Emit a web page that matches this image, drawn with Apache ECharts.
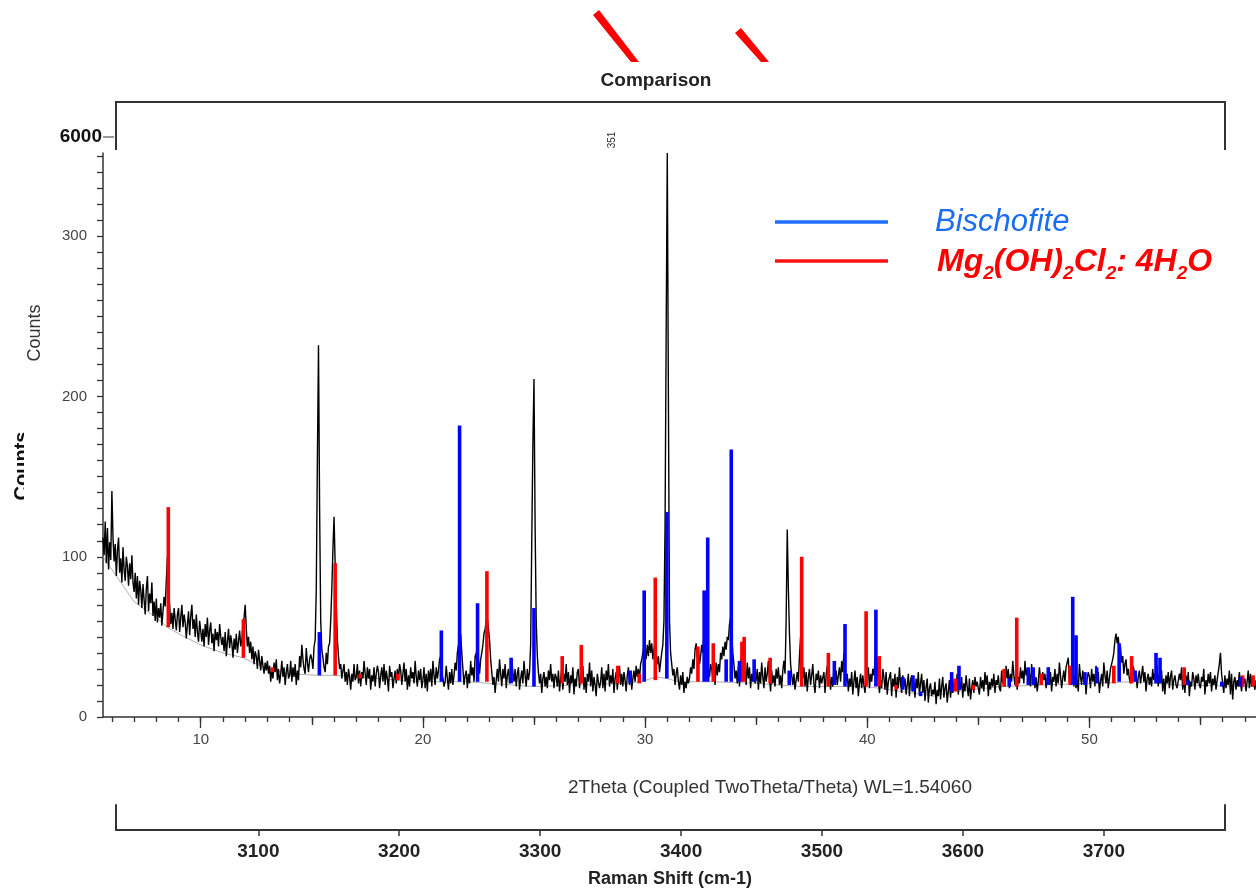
<!DOCTYPE html>
<html><head><meta charset="utf-8">
<script src="https://cdn.jsdelivr.net/npm/echarts@6/dist/echarts.min.js"></script>
<style>html,body{margin:0;padding:0;background:#fff}#c{width:1256px;height:890px}</style>
</head><body><div id="c"></div>
<script>
// ---------- DATA ----------
// observed XRD counts: each row = [first 2theta of the row, counts sampled every 0.05 deg]
const twoThetaStep = 0.05;
const observedRows = [
 [5.6, [112,101,122,96,118,92,109,98]],
 [6,  [141,112,97,108,88,104,112,90,99,84,106,92,85,100,94,82,96,86,101,84]],
 [7,  [78,90,74,88,70,85,79,68,83,73,64,80,88,66,77,71,84,63,72,60]],
 [8,  [74,59,68,62,71,57,66,75,69,85,100,80,70,58,65,55,68,61,54,64]],
 [9,  [68,53,62,70,56,64,59,49,58,66,51,63,70,55,61,50,64,53,47,60]],
 [10, [60,47,55,44,58,50,62,45,54,59,46,52,41,55,48,53,44,58,50,45]],
 [11, [50,41,53,38,47,55,43,51,46,37,49,42,52,40,47,54,44,48,58,62]],
 [12, [70,55,44,50,40,47,36,44,33,41,38,30,42,35,29,38,32,27,34,29]],
 [13, [35,27,32,22,30,24,34,28,36,23,30,21,27,35,25,31,20,28,33,24]],
 [14, [26,35,22,31,25,33,20,29,23,38,31,45,36,30,27,43,34,28,36,39]],
 [15, [36,30,44,48,80,160,232,130,60,42,37,31,28,40,33,44,46,60,80,105]],
 [16, [125,95,70,48,38,30,33,24,29,33,22,28,20,30,25,17,27,22,33,23]],
 [17, [25,33,21,29,19,28,24,35,27,20,31,24,30,17,26,22,31,19,27,32]],
 [18, [28,18,26,31,22,33,20,29,24,16,32,25,28,18,24,29,21,30,23,33]],
 [19, [29,20,27,34,22,30,17,26,19,31,24,28,21,35,25,19,29,23,30,18]],
 [20, [23,31,18,27,16,29,22,30,19,35,26,20,31,24,29,36,38,28,24,19]],
 [21, [22,32,24,17,28,21,30,20,26,34,29,40,45,50,52,40,30,20,26,29]],
 [22, [18,27,21,35,26,31,22,38,40,30,36,27,36,40,45,52,55,60,62,55]],
 [23, [48,36,28,20,25,15,23,30,22,36,27,19,30,24,33,18,26,30,21,24]],
 [24, [36,28,22,30,19,27,31,17,24,29,21,35,26,19,30,23,28,45,110,170]],
 [25, [211,120,60,38,28,21,27,15,24,28,19,25,18,29,23,33,22,27,18,27]],
 [26, [25,19,29,16,24,30,17,27,22,33,20,28,15,26,21,31,14,24,19,28]],
 [27, [30,18,26,21,32,17,25,15,27,22,34,19,29,16,25,20,13,27,22,18]],
 [28, [22,31,18,27,16,29,23,33,19,26,21,30,15,24,28,17,25,32,20,27]],
 [29, [19,28,23,16,26,31,20,27,17,24,29,22,32,25,30,24,33,36,40,44]],
 [30, [42,36,45,38,48,40,46,36,42,47,39,33,38,28,34,40,45,60,120,240]],
 [31, [352,200,60,40,33,26,30,20,27,31,22,17,26,20,28,15,22,18,25,21]],
 [32, [24,31,27,36,30,42,46,37,41,33,38,45,40,52,47,38,43,30,25,33]],
 [33, [30,24,29,20,34,26,33,28,40,36,44,38,47,42,50,48,58,62,52,40]],
 [34, [33,24,29,21,32,19,36,26,31,23,29,20,34,24,31,18,27,22,30,21]],
 [35, [23,30,17,28,21,34,25,18,31,22,27,35,24,16,29,21,26,19,30,24]],
 [36, [31,20,26,18,29,35,27,60,117,80,52,33,26,20,27,17,23,28,22,38]],
 [37, [50,34,24,31,19,28,16,25,30,20,26,33,21,15,27,23,29,18,26,21]],
 [38, [20,28,15,26,32,22,27,17,25,19,30,23,29,20,26,31,22,35,28,40]],
 [39, [34,22,27,16,24,19,28,14,22,29,18,25,13,21,27,18,26,20,15,25]],
 [40, [24,31,18,27,22,30,26,35,42,29,24,15,23,18,30,25,17,28,14,22]],
 [41, [22,28,13,24,19,27,12,25,18,31,21,15,26,19,24,14,20,27,13,23]],
 [42, [26,16,22,12,24,18,28,14,21,27,15,23,10,19,24,9,18,21,13,17]],
 [43, [14,22,8,17,13,24,11,19,25,12,18,21,9,16,23,12,20,15,22,17]],
 [44, [20,27,14,22,17,25,12,21,16,26,19,13,24,11,18,23,15,25,19,22]],
 [45, [21,14,25,18,23,16,28,20,26,13,22,17,24,19,27,15,23,20,26,18]],
 [46, [16,29,21,25,19,32,24,30,18,27,22,35,26,20,28,17,25,21,31,24]],
 [47, [29,21,35,26,30,22,27,19,33,24,29,18,25,16,22,31,24,20,28,23]],
 [48, [27,18,24,31,20,28,16,25,22,30,19,27,21,34,26,18,24,29,22,31]],
 [49, [30,37,22,28,24,31,19,26,18,23,16,33,25,20,29,22,27,14,24,28]],
 [50, [25,18,30,22,27,19,32,24,28,15,22,27,19,34,26,21,29,18,24,30]],
 [51, [30,36,40,48,52,46,50,41,44,34,38,27,33,36,26,30,24,21,28,32]],
 [52, [30,23,27,18,25,29,21,26,32,22,28,16,24,27,20,25,19,30,23,27]],
 [53, [24,32,19,27,22,29,16,24,14,26,21,28,18,25,29,17,23,26,20,18]],
 [54, [19,27,23,31,17,24,15,26,20,28,13,22,19,28,24,17,26,21,27,20]],
 [55, [18,25,22,30,14,23,19,27,21,28,16,24,20,26,17,23,28,33,40,27]],
 [56, [21,15,26,18,24,20,29,14,27,11,22,25,17,23,19,28,22,16,25,21]],
 [57, [24,16,22,29,18,27,19,25,21,17,23]]
];
const backgroundCurve = [
 [5.6,100],[7,72],[8,62],[8.5,56],[9,52],[10,45],[11,40],[11.9,37],[13,30],[14,27],
 [15.3,26],[16,26],[18,24],[20,22],[22,22],[25,19],[29,21],[29.8,22],[30.5,25],[31,24],
 [31.5,22],[33,22],[35,21],[37,19],[40,19],[42,15],[43,13],[44,16],[46,19],[48,20],
 [50,21],[52,22],[54,20],[57.5,19]
];
// reference sticks: [2theta, base, top]
const bischofiteSticks = [
 [15.34,26,53],[20.83,22,54],[21.65,22,182],[22.46,22,71],[23.97,21,37],[25.0,19,68],
 [29.33,21,29],[29.96,22,79],[30.98,24,128],[32.66,22,79],[32.82,22,112],[33.65,22,36],
 [33.88,22,167],[34.25,22,35],[34.91,22,36],[36.49,20,29],[38.52,20,35],[39.0,19,58],
 [40.39,19,67],[41.6,17,25],[42.06,16,26],[42.4,13,16],[43.8,16,28],[44.13,17,32],
 [46.39,19,24],[47.25,20,31],[47.47,20,31],[48.15,20,31],[49.25,20,75],[49.4,20,51],
 [49.8,20,28],[50.33,21,31],[51.34,22,46],[52.06,22,29],[53.0,21,40],[53.18,21,37],
 [54.45,20,23],[55.96,19,22],[56.8,19,25]
];
const hydroxideSticks = [
 [8.54,56,131],[11.92,37,61],[13.23,28,31],[16.05,26,96],[17.18,24,27],[18.87,23,27],
 [22.88,22,91],[26.27,21,38],[27.13,21,45],[28.77,21,32],[29.74,21,27],[30.46,23,87],
 [32.38,22,44],[33.07,22,46],[34.36,22,47],[34.46,22,50],[35.63,21,37],[37.05,19,100],
 [38.25,19,40],[39.95,19,66],[40.54,19,38],[41.3,17,20],[43.96,16,24],[44.77,17,20],
 [46.16,19,30],[46.73,19,62],[47.83,20,27],[49.13,20,32],[51.1,21,32],[51.9,21,38],
 [54.27,20,31],[56.9,19,26],[57.37,19,26]
];
const twoThetaMinorTicks = [6,7,8,9,10,11,12,13,14,15,16,17,18,19,20,21,22,23,24,25,26,27,28,29,30,31,32,33,34,35,36,37,38,39,40,41,42,43,44,45,46,47,48,49,50,51,52,53,54,55,56,57];
const twoThetaMidTicks = [15,25,35,45,55];
const twoThetaLabels = [10,20,30,40,50];
const countMinorTicks = [0,10,20,30,40,50,60,70,80,90,100,110,120,130,140,150,160,170,180,190,200,210,220,230,240,250,260,270,280,290,300,310,320,330,340,350];
const countLabels = [0,100,200,300];
const ramanTicks = [3100,3200,3300,3400,3500,3600,3700];
const seriesNames = ['Bischofite', 'Mg2(OH)2Cl2: 4H2O'];

// ---------- BUILD ----------
const spectrum = [];
observedRows.forEach(([start, counts]) => {
  counts.forEach((v, j) => spectrum.push([+(start + j*twoThetaStep).toFixed(2), v]));
});
const FF = '"Liberation Sans", Arial, sans-serif';
const chart = echarts.init(document.getElementById('c'), null, {renderer:'canvas'});

function stickRender(color){
  return function(params, api){
    const p0 = api.coord([api.value(0), api.value(1)]);
    const p1 = api.coord([api.value(0), api.value(2)]);
    return {type:'rect', shape:{x:p0[0]-1.8, y:p1[1], width:3.6, height:p0[1]-p1[1]},
      style:{fill:color}};
  };
}
function txt(x, y, text, font, fill, align, extra){
  return Object.assign({type:'text', x:x, y:y, style:{text:text, font:font, fill:fill,
    textAlign:align, textVerticalAlign:'middle', align:align, verticalAlign:'middle'}}, extra||{});
}

const xCommon = {type:'value', gridIndex:0, min:5.6, max:57.5, position:'bottom',
  splitLine:{show:false}};
const option = {
  animation:false,
  backgroundColor:'#fff',
  grid:[
    {left:103, right:0, top:153, bottom:173},
    {left:116, right:31, top:805, height:25}
  ],
  xAxis:[
    Object.assign({}, xCommon, {
      axisLine:{lineStyle:{color:'#333', width:1.5}},
      axisTick:{customValues:twoThetaMinorTicks, length:5, lineStyle:{color:'#333', width:1.3}},
      axisLabel:{customValues:twoThetaLabels, color:'#444', fontSize:15, fontFamily:FF, margin:15}
    }),
    Object.assign({}, xCommon, {
      axisLine:{show:false},
      axisTick:{customValues:twoThetaMidTicks, length:8, lineStyle:{color:'#333', width:1.3}},
      axisLabel:{show:false}
    }),
    Object.assign({}, xCommon, {
      axisLine:{show:false},
      axisTick:{customValues:twoThetaLabels, length:11, lineStyle:{color:'#333', width:1.3}},
      axisLabel:{show:false}
    }),
    {type:'value', gridIndex:1, min:2999, max:3786, position:'bottom',
      splitLine:{show:false},
      axisLine:{lineStyle:{color:'#333', width:2}},
      axisTick:{customValues:ramanTicks, length:6, lineStyle:{color:'#333', width:1.5}},
      axisLabel:{customValues:ramanTicks, formatter:v => String(v), color:'#222', fontSize:19, fontWeight:'bold', fontFamily:FF, margin:12}
    }
  ],
  yAxis:[
    {type:'value', gridIndex:0, min:0, max:352, splitLine:{show:false},
      axisLine:{show:true, lineStyle:{color:'#333', width:1.5}},
      axisTick:{show:true, customValues:countMinorTicks, length:6, lineStyle:{color:'#333', width:1.3}},
      axisLabel:{customValues:countLabels, color:'#444', fontSize:15, fontFamily:FF, margin:16}
    },
    {type:'value', gridIndex:0, min:0, max:352, splitLine:{show:false},
      axisLine:{show:false},
      axisTick:{show:true, customValues:countLabels, length:13, lineStyle:{color:'#333', width:1.3}},
      axisLabel:{show:false}
    },
    {type:'value', gridIndex:1, min:0, max:1, position:'left', splitLine:{show:false},
      axisLine:{show:true, onZero:false, lineStyle:{color:'#333', width:2}}, axisTick:{show:false}, axisLabel:{show:false}},
    {type:'value', gridIndex:1, min:0, max:1, position:'right', splitLine:{show:false},
      axisLine:{show:true, onZero:false, lineStyle:{color:'#333', width:2}}, axisTick:{show:false}, axisLabel:{show:false}}
  ],
  series:[
    {type:'line', name:'background', xAxisIndex:0, yAxisIndex:0, data:backgroundCurve,
      showSymbol:false, silent:true, lineStyle:{color:'#999', width:0.8}, z:1},
    {type:'line', name:'observed', xAxisIndex:0, yAxisIndex:0, data:spectrum,
      showSymbol:false, silent:true, lineStyle:{color:'#000', width:1.4}, z:2},
    {type:'custom', name:seriesNames[1], xAxisIndex:0, yAxisIndex:0, data:hydroxideSticks,
      renderItem:stickRender('#ff0000'), encode:{x:0, y:[1,2]}, z:3},
    {type:'custom', name:seriesNames[0], xAxisIndex:0, yAxisIndex:0, data:bischofiteSticks,
      renderItem:stickRender('#0000ff'), encode:{x:0, y:[1,2]}, z:4}
  ],
  graphic:[
    {type:'polygon', shape:{points:[[593,15],[599,10],[639,62],[631,62]]}, style:{fill:'#ff0000'}},
    {type:'polygon', shape:{points:[[735,33],[741,28],[769,62],[761,62]]}, style:{fill:'#ff0000'}},
    txt(656, 81, 'Comparison', 'bold 19px '+FF, '#222', 'center'),
    {type:'polyline', shape:{points:[[116,150],[116,102],[1225,102],[1225,150]]}, style:{stroke:'#333', lineWidth:2, fill:null}},
    txt(102, 137, '6000', 'bold 19px '+FF, '#111', 'right'),
    {type:'line', shape:{x1:103, y1:137, x2:114, y2:137}, style:{stroke:'#555', lineWidth:1.2}},
    txt(612, 140, '351', '10px '+FF, '#333', 'center', {rotation:Math.PI/2}),
    txt(35, 333, 'Counts', '18px '+FF, '#333', 'center', {rotation:Math.PI/2}),
    txt(22, 466, 'Counts', 'bold 20px '+FF, '#111', 'center', {rotation:Math.PI/2}),
    {type:'rect', shape:{x:24, y:420, width:40, height:95}, style:{fill:'#fff'}},
    {type:'line', shape:{x1:775, y1:222, x2:888, y2:222}, style:{stroke:'#1f6fff', lineWidth:3.5}},
    {type:'line', shape:{x1:775, y1:261, x2:888, y2:261}, style:{stroke:'#ff1010', lineWidth:3.5}},
    txt(935, 222, seriesNames[0], 'italic 31px '+FF, '#1a6cf0', 'left'),
    {type:'text', x:937, y:262, style:{
      text:'{m|Mg}{s|2}{m|(OH)}{s|2}{m|Cl}{s|2}{m|: 4H}{s|2}{m|O}',
      textAlign:'left', textVerticalAlign:'middle', align:'left', verticalAlign:'middle',
      rich:{
        m:{fontSize:32, fontWeight:'bold', fontStyle:'italic', fontFamily:FF, fill:'#f00', color:'#f00', lineHeight:42, verticalAlign:'middle'},
        s:{fontSize:19, fontWeight:'bold', fontStyle:'italic', fontFamily:FF, fill:'#f00', color:'#f00', lineHeight:42, verticalAlign:'bottom'}
      }}},
    txt(770, 788, '2Theta (Coupled TwoTheta/Theta) WL=1.54060', '19px '+FF, '#333', 'center'),
    txt(670, 879, 'Raman Shift (cm-1)', 'bold 18px '+FF, '#222', 'center')
  ]
};
chart.setOption(option);
</script></body></html>
